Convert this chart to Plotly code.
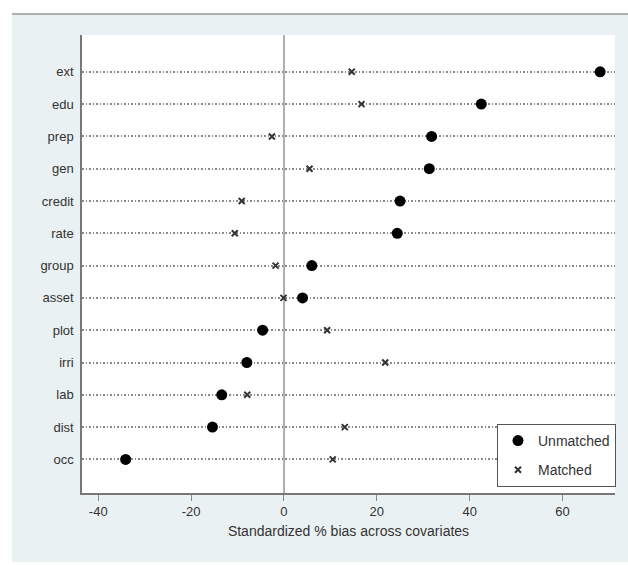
import plotly.graph_objects as go

covariates = ["ext", "edu", "prep", "gen", "credit", "rate", "group",
              "asset", "plot", "irri", "lab", "dist", "occ"]
unmatched = [68.1, 42.5, 31.8, 31.3, 25.0, 24.4, 6.0, 4.0, -4.6, -8.0, -13.4, -15.4, -34.1]
matched = [14.6, 16.7, -2.6, 5.5, -9.1, -10.6, -1.8, -0.1, 9.3, 21.8, -7.9, 13.1, 10.5]
x_ticks = [-40, -20, 0, 20, 40, 60]
x_tick_labels = ["-40", "-20", "0", "20", "40", "60"]

W, H = 628, 565
L, R, T, B = 82, 13, 35, 72
pw, ph = W - L - R, H - T - B

def px(x):
    return (x - L) / pw

def py(y):
    return (H - B - y) / ph

fig = go.Figure()
fig.add_trace(go.Scatter(
    x=unmatched, y=covariates, mode="markers", name="Unmatched",
    legendgroup="u",
    marker=dict(symbol="circle", size=11, color="black"),
))
fig.add_trace(go.Scatter(
    x=matched, y=covariates, mode="markers", name="Matched",
    legendgroup="m",
    marker=dict(symbol="x-thin", size=6, color="#333333",
                line=dict(width=2, color="#333333")),
))

font_family = "Liberation Sans, Arial, sans-serif"

fig.update_layout(
    width=W, height=H,
    margin=dict(l=L, r=R, t=T, b=B),
    paper_bgcolor="#eaf1f2",
    plot_bgcolor="white",
    font=dict(family=font_family, size=13, color="#333333"),
    showlegend=True,
    legend=dict(
        x=px(497), y=py(424), xanchor="left", yanchor="top",
        bgcolor="white", bordercolor="#555555", borderwidth=1,
        font=dict(size=14, color="#333333"),
        tracegroupgap=8,
        itemwidth=30,
        entrywidth=85,
    ),
    xaxis=dict(
        range=[-43.5, 71.3],
        tickvals=x_ticks, ticktext=x_tick_labels,
        ticks="outside", ticklen=6, tickcolor="#888888", tickwidth=1,
        showline=True, linecolor="#777777", linewidth=1.5,
        showgrid=False,
        zeroline=True, zerolinecolor="#b0b0b0", zerolinewidth=2,
        title=dict(text="Standardized % bias across covariates",
                   font=dict(size=14, color="#333333"), standoff=8),
        tickfont=dict(size=13, color="#333333"),
    ),
    yaxis=dict(
        type="category",
        categoryorder="array",
        categoryarray=covariates[::-1],
        range=[-1.04, 13.14],
        showline=True, linecolor="#777777", linewidth=1.5,
        showgrid=True, gridcolor="#8a8a8a", gridwidth=1.5, griddash="1.5px,2px",
        ticks="", ticklabelstandoff=4,
        tickfont=dict(size=13, color="#333333"),
        zeroline=False,
    ),
    shapes=[
        dict(type="rect", xref="paper", yref="paper", layer="below",
             x0=px(-5), x1=px(12), y0=py(-5), y1=py(H + 5),
             fillcolor="white", line=dict(width=0)),
        dict(type="rect", xref="paper", yref="paper", layer="below",
             x0=px(-5), x1=px(W + 5), y0=py(-5), y1=py(14),
             fillcolor="white", line=dict(width=0)),
        dict(type="rect", xref="paper", yref="paper", layer="below",
             x0=px(-5), x1=px(W + 5), y0=py(562), y1=py(H + 5),
             fillcolor="white", line=dict(width=0)),
        dict(type="line", xref="paper", yref="paper", layer="below",
             x0=px(12), x1=px(W + 5), y0=py(14), y1=py(14),
             line=dict(color="#999999", width=1.5)),
    ],
)

fig.write_html(
    "out.html",
    config={"displayModeBar": False},
    post_script="document.body.style.margin='0';document.body.style.overflow='hidden';",
)
